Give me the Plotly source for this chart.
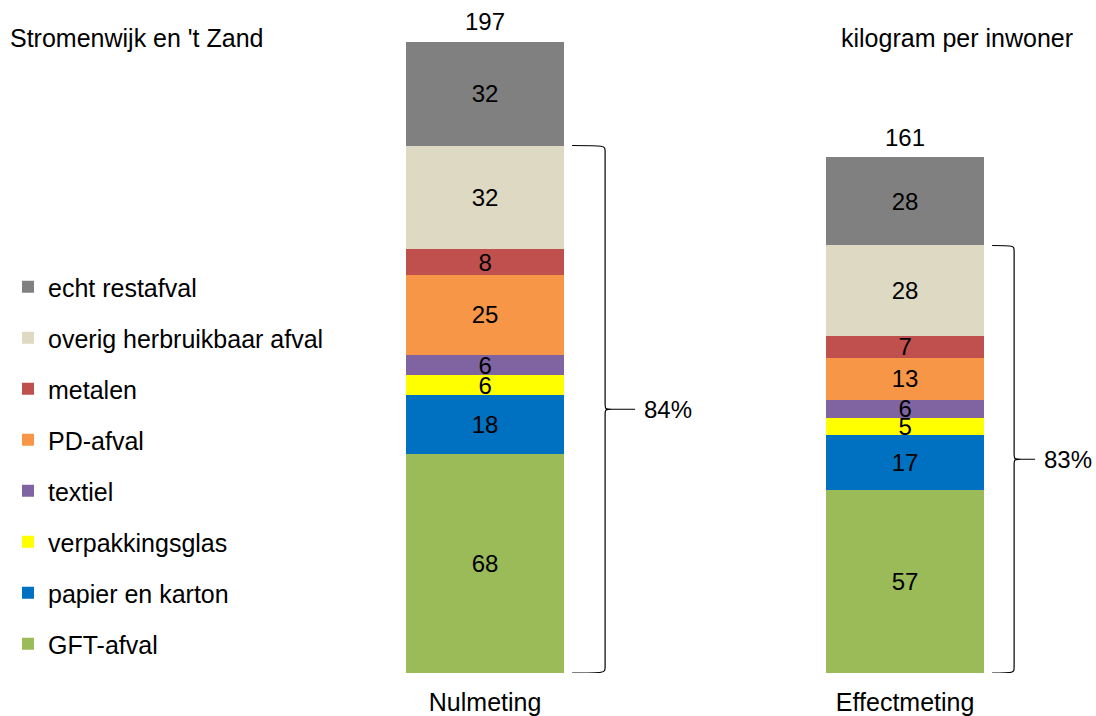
import plotly.graph_objects as go

# Measurements (x-axis categories)
categories = ["Nulmeting", "Effectmeting"]

# Waste fractions, stacked from the bottom up
fractions = [
    "GFT-afval",
    "papier en karton",
    "verpakkingsglas",
    "textiel",
    "PD-afval",
    "metalen",
    "overig herbruikbaar afval",
    "echt restafval",
]
colors = ["#9BBB59", "#0070C0", "#FFFF00", "#8064A2", "#F79646", "#C0504D", "#DDD9C3", "#808080"]

# kilogram per inhabitant per fraction
nulmeting = [68.4, 18.2, 6.3, 6.4, 24.9, 8.0, 32.4, 32.4]
effectmeting = [57.1, 17.3, 5.3, 5.6, 13.1, 6.7, 28.3, 27.6]
series = [nulmeting, effectmeting]

title_left = "Stromenwijk en 't Zand"
title_right = "kilogram per inwoner"

FONT = "Liberation Sans, Arial, sans-serif"
TEXT_SIZE = 25
NUM_SIZE = 24
W, H = 1096, 716
MB = 43
plot_h = H - MB
y_max = 210.0
x_range = [-1.155, 1.4545]
bar_width = 0.376
ppu = plot_h / y_max  # pixels per data unit

fig = go.Figure()
xs = list(range(len(categories)))
n = len(fractions)
for k, name in enumerate(fractions):
    vals = [s[k] for s in series]
    fig.add_trace(go.Bar(
        x=xs,
        y=vals,
        name=name,
        legendgroup=name,
        legendrank=n - k,
        marker=dict(color=colors[k], line=dict(width=0)),
        width=bar_width,
        text=[f"{v:.0f}" for v in vals],
        textposition="inside",
        insidetextanchor="middle",
        textangle=0,
        constraintext="none",
        insidetextfont=dict(family=FONT, size=NUM_SIZE, color="black"),
        hoverinfo="skip",
    ))

annotations = []
shapes = []

# brace geometry in pixels, relative to each bar's centre
brace_geom = [
    dict(left=87, vert=120, tip=127, end=150),
    dict(left=87, vert=109, tip=116, end=130),
]

for i, vals in enumerate(series):
    total = sum(vals)
    annotations.append(dict(
        x=i, y=total, xref="x", yref="y", text=f"{total:.0f}",
        showarrow=False, yanchor="middle", yshift=20,
        font=dict(family=FONT, size=NUM_SIZE, color="black"),
    ))
    recyclable = sum(vals[:-1])
    share = recyclable / total * 100
    top, mid, bot = recyclable, recyclable / 2, 0.0
    r = 6 / ppu
    g = brace_geom[i]
    L, V, P, E = g["left"], g["vert"], g["tip"], g["end"]
    path = (
        f"M {L},{top} C {V},{top} {V},{top} {V},{top - r} "
        f"L {V},{mid + r} C {V},{mid} {V},{mid} {P},{mid} "
        f"L {E},{mid} M {P},{mid} "
        f"C {V},{mid} {V},{mid} {V},{mid - r} "
        f"L {V},{bot + r} C {V},{bot} {V},{bot} {L},{bot}"
    )
    shapes.append(dict(
        type="path", xref="x", yref="y", xsizemode="pixel", xanchor=i,
        path=path, line=dict(color="black", width=1.2),
    ))
    annotations.append(dict(
        x=i, y=mid, xref="x", yref="y", text=f"{share:.0f}%",
        showarrow=False, xanchor="left", yanchor="middle", xshift=E + 7,
        font=dict(family=FONT, size=NUM_SIZE, color="black"),
    ))

title_y = (plot_h - 38) / plot_h
annotations.append(dict(
    x=8 / W, y=title_y, xref="paper", yref="paper", text=title_left,
    showarrow=False, xanchor="left", yanchor="middle",
    font=dict(family=FONT, size=TEXT_SIZE, color="black"),
))
annotations.append(dict(
    x=1075 / W, y=title_y, xref="paper", yref="paper", text=title_right,
    showarrow=False, xanchor="right", yanchor="middle",
    font=dict(family=FONT, size=TEXT_SIZE, color="black"),
))

fig.update_layout(
    width=W, height=H,
    margin=dict(l=0, r=0, t=0, b=MB),
    barmode="stack",
    plot_bgcolor="white", paper_bgcolor="white",
    font=dict(family=FONT, size=TEXT_SIZE, color="black"),
    showlegend=True,
    legend=dict(
        x=8 / W, y=(plot_h - 264) / plot_h, xanchor="left", yanchor="top",
        traceorder="grouped", tracegroupgap=15.5,
        font=dict(family=FONT, size=TEXT_SIZE, color="black"),
        bgcolor="rgba(0,0,0,0)", borderwidth=0,
    ),
    xaxis=dict(
        range=x_range, tickvals=xs, ticktext=categories,
        showgrid=False, zeroline=False, showline=False,
        ticks="outside", ticklen=7, tickcolor="rgba(0,0,0,0)",
        tickfont=dict(family=FONT, size=TEXT_SIZE, color="black"),
        automargin=False, fixedrange=True,
    ),
    yaxis=dict(range=[0, y_max], visible=False, fixedrange=True, automargin=False),
    shapes=shapes,
    annotations=annotations,
)

fig.write_html("out.html")
